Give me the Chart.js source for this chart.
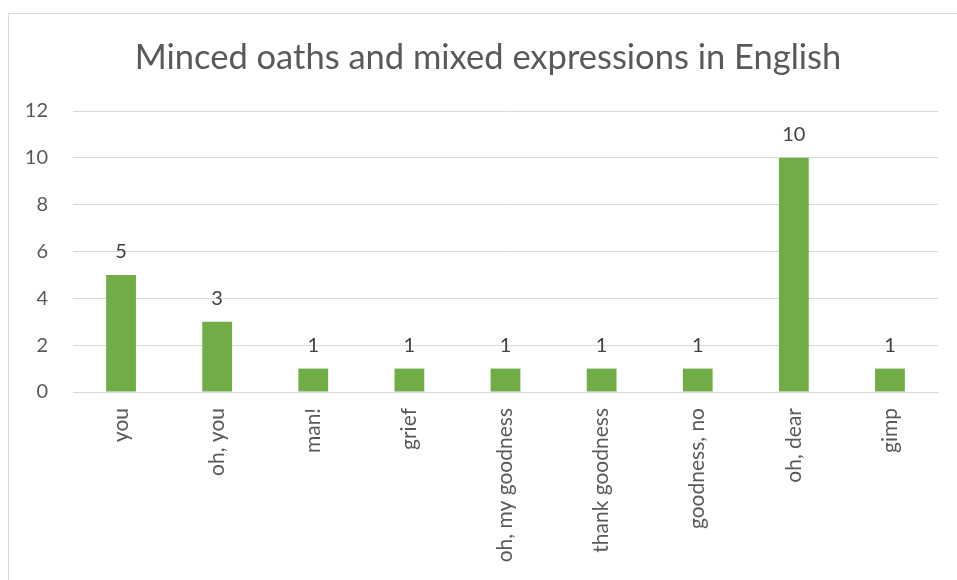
<!DOCTYPE html>
<html><head><meta charset="utf-8">
<script src="https://cdn.jsdelivr.net/npm/chart.js@4/dist/chart.umd.min.js"></script>
<style>
html,body{margin:0;padding:0;background:#fff;width:957px;height:580px;overflow:hidden;}
#frame{position:absolute;left:8px;top:13px;width:960px;height:600px;border:1px solid #d9d9d9;box-sizing:border-box;}
#wrap{position:absolute;left:0;top:0;width:957px;height:580px;}
</style></head>
<body>
<div id="frame"></div>
<div id="wrap"><canvas id="c" width="957" height="580"></canvas></div>
<script>
const categories = ["you","oh, you","man!","grief","oh, my goodness","thank goodness","goodness, no","oh, dear","gimp"];
const values = [5,3,1,1,1,1,1,10,1];
const yTicks = [0,2,4,6,8,10,12];
const chartTitle = "Minced oaths and mixed expressions in English";

const FONT = "Lato, 'Open Sans', sans-serif";

const labelPlugin = {
  id: 'barLabels',
  afterDatasetsDraw(chart){
    const ctx = chart.ctx;
    const meta = chart.getDatasetMeta(0);
    ctx.save();
    ctx.font = "20px " + FONT;
    ctx.fillStyle = "#404040";
    ctx.textAlign = "center";
    ctx.textBaseline = "alphabetic";
    meta.data.forEach((bar,i)=>{
      ctx.fillText(String(values[i]), bar.x, bar.y - 17);
    });
    ctx.restore();
  }
};

const titlePlugin = {
  id: 'frameTitle',
  afterDraw(chart){
    const ctx = chart.ctx;
    ctx.save();
    ctx.font = "34.5px " + FONT;
    ctx.fillStyle = "#595959";
    ctx.textAlign = "center";
    ctx.textBaseline = "alphabetic";
    ctx.fillText(chartTitle, 488, 69);
    ctx.restore();
  }
};

new Chart(document.getElementById('c'), {
  type: 'bar',
  data: {
    labels: categories,
    datasets: [{
      data: values,
      backgroundColor: '#70AD47',
      borderWidth: 0,
      barPercentage: 0.62,
      categoryPercentage: 0.5
    }]
  },
  options: {
    responsive: false,
    animation: false,
    layout: { padding: { left: 20, right: 19, top: 111, bottom: 0 } },
    plugins: {
      legend: { display: false },
      tooltip: { enabled: false },
      title: { display: false }
    },
    scales: {
      y: {
        min: 0, max: 12,
        afterBuildTicks(axis){ axis.ticks = yTicks.map(v=>({value:v})); },
        afterFit(axis){ axis.width = 53; },
        grid: { color: '#d9d9d9', lineWidth: 1, drawTicks: false },
        border: { display: false },
        ticks: { color: '#595959', font: { family: FONT, size: 20 }, padding: 25 }
      },
      x: {
        afterFit(axis){ axis.height = 188; },
        grid: { display: false, drawTicks: false },
        border: { display: true, color: '#d9d9d9', width: 1 },
        ticks: { color: '#595959', font: { family: FONT, size: 21 }, maxRotation: 90, minRotation: 90, padding: 16, autoSkip: false }
      }
    }
  },
  plugins: [labelPlugin, titlePlugin]
});
</script>
</body></html>
